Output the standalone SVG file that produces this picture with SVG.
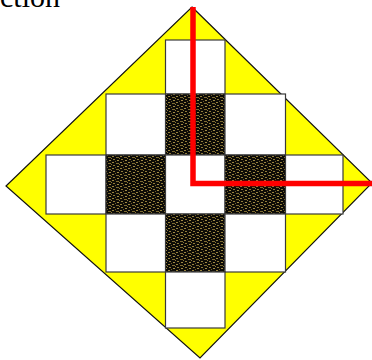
<svg xmlns="http://www.w3.org/2000/svg" width="372" height="360" viewBox="0 0 372 360">
<style>
.w{fill:#ffffff;stroke:#3a3a3a;stroke-width:1.2}
.d{fill:url(#speck);stroke:#3a3a3a;stroke-width:1}
.red{fill:none;stroke:#ff0000;stroke-width:5.5;stroke-linejoin:miter}
</style>
<defs>
<pattern id="speck" width="8" height="6" patternUnits="userSpaceOnUse">
<rect width="8" height="6" fill="#0d0b06"/>
<rect x="0" y="0" width="2" height="1" fill="#9a8540"/>
<rect x="4" y="1" width="3" height="1" fill="#7d6b32"/>
<rect x="1" y="3" width="2" height="1" fill="#8f7b3a"/>
<rect x="5" y="4" width="2" height="1" fill="#a18b45"/>
<rect x="3" y="5" width="1" height="1" fill="#6e5e2c"/>
<rect x="7" y="2" width="1" height="1" fill="#8a773a"/>
</pattern>
</defs>
<rect width="372" height="360" fill="#ffffff"/>
<text x="60" y="7" text-anchor="end" font-family="Liberation Serif, serif" font-size="30" fill="#000">ction</text>
<g id="diamond">
<polygon points="192,7 372,183 200,358 6,186" fill="#ffff00" stroke="#111" stroke-width="1.2"/>
</g>
<g id="squares">
<rect id="r0c2" class="w" x="165.5" y="40" width="59.5" height="54"/>
<rect id="r1c1" class="w" x="106" y="94" width="59.5" height="61"/>
<rect id="r1c2" class="d" x="165.5" y="94" width="59.5" height="61"/>
<rect id="r1c3" class="w" x="225" y="94" width="60.5" height="61"/>
<rect id="r2c0" class="w" x="46" y="155" width="60" height="59"/>
<rect id="r2c1" class="d" x="106" y="155" width="59.5" height="59"/>
<rect id="r2c2" class="w" x="165.5" y="155" width="59.5" height="59"/>
<rect id="r2c3" class="d" x="225" y="155" width="60.5" height="59"/>
<rect id="r2c4" class="w" x="285.5" y="155" width="57.5" height="59"/>
<rect id="r3c1" class="w" x="106" y="214" width="59.5" height="58"/>
<rect id="r3c2" class="d" x="165.5" y="214" width="59.5" height="58"/>
<rect id="r3c3" class="w" x="225" y="214" width="60.5" height="58"/>
<rect id="r4c2" class="w" x="165.5" y="272" width="59.5" height="56"/>
</g>
<g id="connectors">
<polyline class="red" points="193,7 193,183.5 372,183.5"/>
</g>
</svg>
